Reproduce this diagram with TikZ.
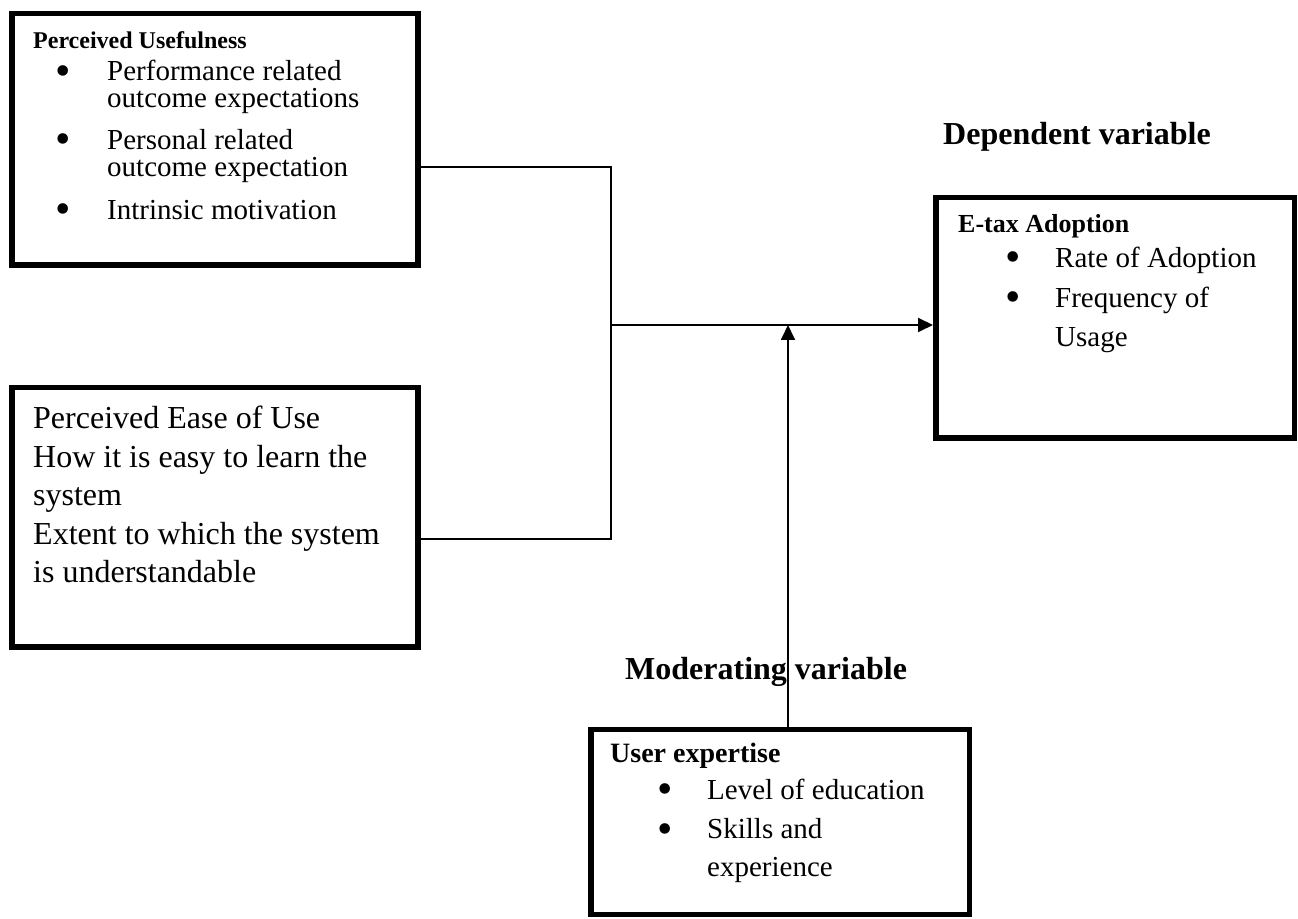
\documentclass[tikz,border=0pt]{standalone}
\usepackage{fontspec}
\setmainfont{Liberation Serif}
\usepackage{tikz}
\usetikzlibrary{arrows.meta}

\begin{document}
\begin{tikzpicture}[x=1pt,y=1pt,
  box/.style={draw, line width=5.5pt, anchor=north west, inner sep=0pt},
  link/.style={line width=1.8pt},
  head/.style={-{Triangle[length=15pt,width=14pt]}},
  txt/.style={anchor=base west, inner sep=0pt, align=left, font=\fontsize{29}{27}\selectfont},
  wide/.style={anchor=base west, inner sep=0pt, align=left, font=\fontsize{29}{39}\selectfont},
  big/.style={anchor=base west, inner sep=0pt, align=left, font=\fontsize{32}{38.5}\selectfont},
  ttl/.style={anchor=base west, inner sep=0pt, font=\bfseries\fontsize{#1}{#1}\selectfont},
  blt/.style={anchor=base, inner sep=0pt, yshift=-3.5pt, font=\fontsize{44}{44}\selectfont}]
\useasboundingbox (0,0) rectangle (1298,918);

% the four boxes
\node [box, minimum width=406pt, minimum height=251.5pt] (pu) at (9,907) {};
\node [box, minimum width=406pt, minimum height=259.5pt] (peou) at (9,533) {};
\node [box, minimum width=358.5pt, minimum height=240.5pt] (eta) at (933,723) {};
\node [box, minimum width=378.5pt, minimum height=184.5pt] (ue) at (588,191) {};

% perceived usefulness (multi-line nodes sit on their last line)
\node [ttl=24] (pu0) at (33,869) {Perceived Usefulness};
\node [blt] (pub1) at (63,836) {\textbullet};
\node [txt] (pu1) at (107,810) {Performance related\\outcome expectations};
\node [blt] (pub2) at (63,768) {\textbullet};
\node [txt] (pu2) at (107,741) {Personal related\\outcome expectation};
\node [blt] (pub3) at (63,698) {\textbullet};
\node [txt] (pu3) at (107,698) {Intrinsic motivation};

% perceived ease of use
\node [big] (pe) at (33,335) {Perceived Ease of Use\\How it is easy to learn the\\system\\Extent to which the system\\is understandable};

% e-tax adoption
\node [ttl=26] (et0) at (958,685) {E-tax Adoption};
\node [blt] (etb1) at (1013,650) {\textbullet};
\node [txt] (et1) at (1055,650) {Rate of Adoption};
\node [blt] (etb2) at (1013,610) {\textbullet};
\node [wide] (et2) at (1055,571) {Frequency of\\Usage};

% user expertise
\node [ttl=28] (ux0) at (610,155) {User expertise};
\node [blt] (uxb1) at (665,118) {\textbullet};
\node [txt] (ux1) at (707,118) {Level of education};
\node [blt] (uxb2) at (665,78) {\textbullet};
\node [wide] (ux2) at (707,41) {Skills and\\experience};

\node [ttl=32] (dep) at (943,773) {Dependent variable};
\node [ttl=32] (mod) at (625,238) {Moderating variable};

% connectors
\coordinate (j1) at (611,751);
\coordinate (j2) at (611,379);
\coordinate (jm) at (611,593);
\coordinate (tip) at (788,593);
\draw [link] (pu.east |- j1) -- (j1) -- (j2) -- (peou.east |- j2);
\draw [link, head] (jm) -- (eta.west |- jm);
\draw [link, head] (ue.north -| tip) -- (tip);

\end{tikzpicture}
\end{document}
